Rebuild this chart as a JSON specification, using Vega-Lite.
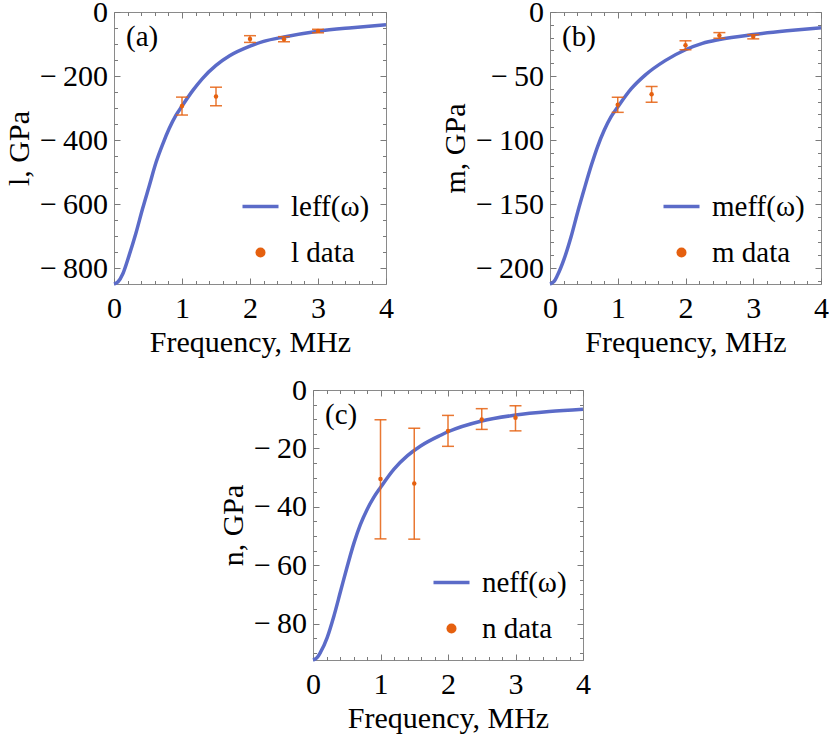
{
  "$schema": "https://vega.github.io/schema/vega-lite/v6.json",
  "background": "white",
  "padding": {"left": 4, "top": -4, "right": 0, "bottom": 0},
  "datasets": {
    "curveA": [
      {"f": 0, "v": -850}, {"f": 0.06, "v": -843}, {"f": 0.13, "v": -818}, {"f": 0.22, "v": -762},
      {"f": 0.32, "v": -693}, {"f": 0.42, "v": -615}, {"f": 0.52, "v": -542}, {"f": 0.62, "v": -469},
      {"f": 0.72, "v": -411}, {"f": 0.81, "v": -365}, {"f": 0.91, "v": -323}, {"f": 1.0, "v": -294},
      {"f": 1.16, "v": -245}, {"f": 1.3, "v": -208}, {"f": 1.5, "v": -167}, {"f": 1.7, "v": -137},
      {"f": 2.0, "v": -107}, {"f": 2.2, "v": -92}, {"f": 2.5, "v": -78}, {"f": 3.0, "v": -60},
      {"f": 3.5, "v": -49}, {"f": 4.0, "v": -40}
    ],
    "ptsA": [
      {"f": 1, "v": -294, "lo": -322, "hi": -266},
      {"f": 1.5, "v": -264, "lo": -293, "hi": -235},
      {"f": 2, "v": -84, "lo": -95, "hi": -74},
      {"f": 2.5, "v": -85, "lo": -93, "hi": -77},
      {"f": 3, "v": -59, "lo": -65, "hi": -54}
    ],
    "curveB": [
      {"f": 0, "v": -212.5}, {"f": 0.06, "v": -210.5}, {"f": 0.11, "v": -205.7}, {"f": 0.21, "v": -192.7},
      {"f": 0.31, "v": -175.8}, {"f": 0.41, "v": -156}, {"f": 0.51, "v": -137.5}, {"f": 0.61, "v": -119.8},
      {"f": 0.7, "v": -105.5}, {"f": 0.8, "v": -92.4}, {"f": 0.9, "v": -82}, {"f": 1.0, "v": -74.2},
      {"f": 1.2, "v": -59.9}, {"f": 1.4, "v": -49.5}, {"f": 1.7, "v": -38}, {"f": 2.0, "v": -29.5},
      {"f": 2.25, "v": -24.5}, {"f": 2.5, "v": -21.5}, {"f": 3.0, "v": -17.6}, {"f": 3.5, "v": -14.7},
      {"f": 4.0, "v": -12.3}
    ],
    "ptsB": [
      {"f": 1, "v": -72.4, "lo": -78.4, "hi": -66.6},
      {"f": 1.5, "v": -64.3, "lo": -70.5, "hi": -58.2},
      {"f": 2, "v": -26, "lo": -29.5, "hi": -22.5},
      {"f": 2.5, "v": -18.3, "lo": -20.5, "hi": -16.1},
      {"f": 3, "v": -19.3, "lo": -21, "hi": -17.7}
    ],
    "curveC": [
      {"f": 0, "v": -92.5}, {"f": 0.06, "v": -91.7}, {"f": 0.11, "v": -89.9}, {"f": 0.21, "v": -84.8},
      {"f": 0.31, "v": -77.4}, {"f": 0.41, "v": -68.8}, {"f": 0.51, "v": -60.2}, {"f": 0.61, "v": -52.2},
      {"f": 0.7, "v": -46.2}, {"f": 0.8, "v": -41}, {"f": 0.9, "v": -36.8}, {"f": 1.0, "v": -33.4},
      {"f": 1.2, "v": -27.1}, {"f": 1.4, "v": -22.5}, {"f": 1.6, "v": -19.1}, {"f": 1.9, "v": -15.4},
      {"f": 2.0, "v": -14.3}, {"f": 2.5, "v": -10.6}, {"f": 3.0, "v": -8.6}, {"f": 3.5, "v": -7.4},
      {"f": 4.0, "v": -6.6}
    ],
    "ptsC": [
      {"f": 1, "v": -30.5, "lo": -51, "hi": -10.2},
      {"f": 1.5, "v": -32, "lo": -51.1, "hi": -13.1},
      {"f": 2, "v": -14, "lo": -19.3, "hi": -8.7},
      {"f": 2.5, "v": -10.1, "lo": -13.5, "hi": -6.4},
      {"f": 3, "v": -9.5, "lo": -14, "hi": -5.4}
    ]
  },
  "vconcat": [
    {
      "hconcat": [
        {
          "width": 272, "height": 272,
          "title": {"text": "(a)"},
          "layer": [
            {
              "data": {"name": "curveA"},
              "mark": {"type": "line", "strokeWidth": 3.5, "interpolate": "monotone"},
              "encoding": {
                "x": {"field": "f", "type": "quantitative", "scale": {"domain": [0, 4], "nice": false, "zero": false},
                      "axis": {"orient": "bottom", "values": [0, 1, 2, 3, 4], "title": "Frequency, MHz"}},
                "y": {"field": "v", "type": "quantitative", "scale": {"domain": [-850, 0], "nice": false},
                      "axis": {"orient": "left", "values": [-800, -600, -400, -200, 0], "title": "l, GPa",
                               "labelExpr": "datum.value < 0 ? '\u2212\u2009' + format(-datum.value, 'd') : '0'"}},
                "color": {"datum": "leff(ω)", "type": "nominal",
                          "scale": {"domain": ["leff(ω)", "l data"], "range": ["#5b6bc8", "#e5600f"]},
                          "legend": {"encode": {"symbols": {"update": {
                            "shape": {"signal": "datum.index === 1 ? 'circle' : 'stroke'"},
                            "size": {"signal": "datum.index === 1 ? 100 : 1296"},
                            "strokeWidth": {"signal": "datum.index === 1 ? 0 : 3.5"},
                            "fill": {"signal": "datum.index === 1 ? '#e5600f' : 'transparent'"},
                            "stroke": {"signal": "datum.index === 1 ? '#e5600f' : '#5b6bc8'"},
                            "opacity": {"value": 1}}}}}}
              }
            },
            {
              "data": {"name": "ptsA"},
              "mark": {"type": "rule", "color": "#e5600f", "strokeWidth": 1.5, "opacity": 0.85},
              "encoding": {
                "x": {"field": "f", "type": "quantitative", "scale": {"domain": [0, 4], "nice": false, "zero": false},
                      "axis": {"orient": "top", "values": [0, 1, 2, 3, 4], "labels": false, "title": null}},
                "y": {"field": "lo", "type": "quantitative", "scale": {"domain": [-850, 0], "nice": false},
                      "axis": {"orient": "right", "values": [-800, -600, -400, -200, 0], "labels": false, "title": null}},
                "y2": {"field": "hi"}
              }
            },
            {
              "data": {"name": "ptsA"},
              "mark": {"type": "tick", "orient": "horizontal", "size": 12, "thickness": 1.5, "color": "#e5600f", "opacity": 0.85},
              "encoding": {
                "x": {"field": "f", "type": "quantitative", "scale": {"domain": [0, 4], "nice": false, "zero": false},
                      "axis": {"orient": "bottom", "values": [0.2, 0.4, 0.6, 0.8, 1.2, 1.4, 1.6, 1.8, 2.2, 2.4, 2.6, 2.8, 3.2, 3.4, 3.6, 3.8],
                               "labels": false, "title": null, "tickSize": 3.5, "offset": -3.5}},
                "y": {"field": "lo", "type": "quantitative", "scale": {"domain": [-850, 0], "nice": false},
                      "axis": {"orient": "left", "values": [-750, -700, -650, -550, -500, -450, -350, -300, -250, -150, -100, -50],
                               "labels": false, "title": null, "tickSize": 3.5, "offset": -3.5}}
              }
            },
            {
              "data": {"name": "ptsA"},
              "mark": {"type": "tick", "orient": "horizontal", "size": 12, "thickness": 1.5, "color": "#e5600f", "opacity": 0.85},
              "encoding": {
                "x": {"field": "f", "type": "quantitative", "scale": {"domain": [0, 4], "nice": false, "zero": false},
                      "axis": {"orient": "top", "values": [0.2, 0.4, 0.6, 0.8, 1.2, 1.4, 1.6, 1.8, 2.2, 2.4, 2.6, 2.8, 3.2, 3.4, 3.6, 3.8],
                               "labels": false, "title": null, "tickSize": 3.5, "offset": -3.5}},
                "y": {"field": "hi", "type": "quantitative", "scale": {"domain": [-850, 0], "nice": false},
                      "axis": {"orient": "right", "values": [-750, -700, -650, -550, -500, -450, -350, -300, -250, -150, -100, -50],
                               "labels": false, "title": null, "tickSize": 3.5, "offset": -3.5}}
              }
            },
            {
              "data": {"name": "ptsA"},
              "mark": {"type": "point", "filled": true, "size": 20, "opacity": 1},
              "encoding": {
                "x": {"field": "f", "type": "quantitative", "scale": {"domain": [0, 4], "nice": false, "zero": false}, "axis": null},
                "y": {"field": "v", "type": "quantitative", "scale": {"domain": [-850, 0], "nice": false}, "axis": null},
                "color": {"datum": "l data", "type": "nominal"}
              }
            }
          ],
          "resolve": {"axis": {"x": "independent", "y": "independent"}}
        },
        {
          "width": 271, "height": 272,
          "title": {"text": "(b)"},
          "layer": [
            {
              "data": {"name": "curveB"},
              "mark": {"type": "line", "strokeWidth": 3.5, "interpolate": "monotone"},
              "encoding": {
                "x": {"field": "f", "type": "quantitative", "scale": {"domain": [0, 4], "nice": false, "zero": false},
                      "axis": {"orient": "bottom", "values": [0, 1, 2, 3, 4], "title": "Frequency, MHz"}},
                "y": {"field": "v", "type": "quantitative", "scale": {"domain": [-212.5, 0], "nice": false},
                      "axis": {"orient": "left", "values": [-200, -150, -100, -50, 0], "title": "m, GPa",
                               "labelExpr": "datum.value < 0 ? '\u2212\u2009' + format(-datum.value, 'd') : '0'"}},
                "color": {"datum": "meff(ω)", "type": "nominal",
                          "scale": {"domain": ["meff(ω)", "m data"], "range": ["#5b6bc8", "#e5600f"]},
                          "legend": {"encode": {"symbols": {"update": {
                            "shape": {"signal": "datum.index === 1 ? 'circle' : 'stroke'"},
                            "size": {"signal": "datum.index === 1 ? 100 : 1296"},
                            "strokeWidth": {"signal": "datum.index === 1 ? 0 : 3.5"},
                            "fill": {"signal": "datum.index === 1 ? '#e5600f' : 'transparent'"},
                            "stroke": {"signal": "datum.index === 1 ? '#e5600f' : '#5b6bc8'"},
                            "opacity": {"value": 1}}}}}}
              }
            },
            {
              "data": {"name": "ptsB"},
              "mark": {"type": "rule", "color": "#e5600f", "strokeWidth": 1.5, "opacity": 0.85},
              "encoding": {
                "x": {"field": "f", "type": "quantitative", "scale": {"domain": [0, 4], "nice": false, "zero": false},
                      "axis": {"orient": "top", "values": [0, 1, 2, 3, 4], "labels": false, "title": null}},
                "y": {"field": "lo", "type": "quantitative", "scale": {"domain": [-212.5, 0], "nice": false},
                      "axis": {"orient": "right", "values": [-200, -150, -100, -50, 0], "labels": false, "title": null}},
                "y2": {"field": "hi"}
              }
            },
            {
              "data": {"name": "ptsB"},
              "mark": {"type": "tick", "orient": "horizontal", "size": 12, "thickness": 1.5, "color": "#e5600f", "opacity": 0.85},
              "encoding": {
                "x": {"field": "f", "type": "quantitative", "scale": {"domain": [0, 4], "nice": false, "zero": false},
                      "axis": {"orient": "bottom", "values": [0.2, 0.4, 0.6, 0.8, 1.2, 1.4, 1.6, 1.8, 2.2, 2.4, 2.6, 2.8, 3.2, 3.4, 3.6, 3.8],
                               "labels": false, "title": null, "tickSize": 3.5, "offset": -3.5}},
                "y": {"field": "lo", "type": "quantitative", "scale": {"domain": [-212.5, 0], "nice": false},
                      "axis": {"orient": "left", "values": [-210, -190, -180, -170, -160, -140, -130, -120, -110, -90, -80, -70, -60, -40, -30, -20, -10],
                               "labels": false, "title": null, "tickSize": 3.5, "offset": -3.5}}
              }
            },
            {
              "data": {"name": "ptsB"},
              "mark": {"type": "tick", "orient": "horizontal", "size": 12, "thickness": 1.5, "color": "#e5600f", "opacity": 0.85},
              "encoding": {
                "x": {"field": "f", "type": "quantitative", "scale": {"domain": [0, 4], "nice": false, "zero": false},
                      "axis": {"orient": "top", "values": [0.2, 0.4, 0.6, 0.8, 1.2, 1.4, 1.6, 1.8, 2.2, 2.4, 2.6, 2.8, 3.2, 3.4, 3.6, 3.8],
                               "labels": false, "title": null, "tickSize": 3.5, "offset": -3.5}},
                "y": {"field": "hi", "type": "quantitative", "scale": {"domain": [-212.5, 0], "nice": false},
                      "axis": {"orient": "right", "values": [-210, -190, -180, -170, -160, -140, -130, -120, -110, -90, -80, -70, -60, -40, -30, -20, -10],
                               "labels": false, "title": null, "tickSize": 3.5, "offset": -3.5}}
              }
            },
            {
              "data": {"name": "ptsB"},
              "mark": {"type": "point", "filled": true, "size": 20, "opacity": 1},
              "encoding": {
                "x": {"field": "f", "type": "quantitative", "scale": {"domain": [0, 4], "nice": false, "zero": false}, "axis": null},
                "y": {"field": "v", "type": "quantitative", "scale": {"domain": [-212.5, 0], "nice": false}, "axis": null},
                "color": {"datum": "m data", "type": "nominal"}
              }
            }
          ],
          "resolve": {"axis": {"x": "independent", "y": "independent"}}
        }
      ],
      "spacing": 164,
      "bounds": "flush",
      "resolve": {"scale": {"color": "independent"}, "legend": {"color": "independent"}}
    },
    {
      "hconcat": [
        {
          "width": 199, "height": 100,
          "view": {"stroke": null, "fill": "white"},
          "data": {"values": []},
          "mark": "point"
        },
        {
          "width": 270, "height": 270,
          "title": {"text": "(c)"},
          "layer": [
            {
              "data": {"name": "curveC"},
              "mark": {"type": "line", "strokeWidth": 3.5, "interpolate": "monotone"},
              "encoding": {
                "x": {"field": "f", "type": "quantitative", "scale": {"domain": [0, 4], "nice": false, "zero": false},
                      "axis": {"orient": "bottom", "values": [0, 1, 2, 3, 4], "title": "Frequency, MHz"}},
                "y": {"field": "v", "type": "quantitative", "scale": {"domain": [-92.5, 0], "nice": false},
                      "axis": {"orient": "left", "values": [-80, -60, -40, -20, 0], "title": "n, GPa",
                               "labelExpr": "datum.value < 0 ? '\u2212\u2009' + format(-datum.value, 'd') : '0'"}},
                "color": {"datum": "neff(ω)", "type": "nominal",
                          "scale": {"domain": ["neff(ω)", "n data"], "range": ["#5b6bc8", "#e5600f"]},
                          "legend": {"encode": {"symbols": {"update": {
                            "shape": {"signal": "datum.index === 1 ? 'circle' : 'stroke'"},
                            "size": {"signal": "datum.index === 1 ? 100 : 1296"},
                            "strokeWidth": {"signal": "datum.index === 1 ? 0 : 3.5"},
                            "fill": {"signal": "datum.index === 1 ? '#e5600f' : 'transparent'"},
                            "stroke": {"signal": "datum.index === 1 ? '#e5600f' : '#5b6bc8'"},
                            "opacity": {"value": 1}}}}}}
              }
            },
            {
              "data": {"name": "ptsC"},
              "mark": {"type": "rule", "color": "#e5600f", "strokeWidth": 1.5, "opacity": 0.85},
              "encoding": {
                "x": {"field": "f", "type": "quantitative", "scale": {"domain": [0, 4], "nice": false, "zero": false},
                      "axis": {"orient": "top", "values": [0, 1, 2, 3, 4], "labels": false, "title": null}},
                "y": {"field": "lo", "type": "quantitative", "scale": {"domain": [-92.5, 0], "nice": false},
                      "axis": {"orient": "right", "values": [-80, -60, -40, -20, 0], "labels": false, "title": null}},
                "y2": {"field": "hi"}
              }
            },
            {
              "data": {"name": "ptsC"},
              "mark": {"type": "tick", "orient": "horizontal", "size": 12, "thickness": 1.5, "color": "#e5600f", "opacity": 0.85},
              "encoding": {
                "x": {"field": "f", "type": "quantitative", "scale": {"domain": [0, 4], "nice": false, "zero": false},
                      "axis": {"orient": "bottom", "values": [0.2, 0.4, 0.6, 0.8, 1.2, 1.4, 1.6, 1.8, 2.2, 2.4, 2.6, 2.8, 3.2, 3.4, 3.6, 3.8],
                               "labels": false, "title": null, "tickSize": 3.5, "offset": -3.5}},
                "y": {"field": "lo", "type": "quantitative", "scale": {"domain": [-92.5, 0], "nice": false},
                      "axis": {"orient": "left", "values": [-90, -85, -75, -70, -65, -55, -50, -45, -35, -30, -25, -15, -10, -5],
                               "labels": false, "title": null, "tickSize": 3.5, "offset": -3.5}}
              }
            },
            {
              "data": {"name": "ptsC"},
              "mark": {"type": "tick", "orient": "horizontal", "size": 12, "thickness": 1.5, "color": "#e5600f", "opacity": 0.85},
              "encoding": {
                "x": {"field": "f", "type": "quantitative", "scale": {"domain": [0, 4], "nice": false, "zero": false},
                      "axis": {"orient": "top", "values": [0.2, 0.4, 0.6, 0.8, 1.2, 1.4, 1.6, 1.8, 2.2, 2.4, 2.6, 2.8, 3.2, 3.4, 3.6, 3.8],
                               "labels": false, "title": null, "tickSize": 3.5, "offset": -3.5}},
                "y": {"field": "hi", "type": "quantitative", "scale": {"domain": [-92.5, 0], "nice": false},
                      "axis": {"orient": "right", "values": [-90, -85, -75, -70, -65, -55, -50, -45, -35, -30, -25, -15, -10, -5],
                               "labels": false, "title": null, "tickSize": 3.5, "offset": -3.5}}
              }
            },
            {
              "data": {"name": "ptsC"},
              "mark": {"type": "point", "filled": true, "size": 20, "opacity": 1},
              "encoding": {
                "x": {"field": "f", "type": "quantitative", "scale": {"domain": [0, 4], "nice": false, "zero": false}, "axis": null},
                "y": {"field": "v", "type": "quantitative", "scale": {"domain": [-92.5, 0], "nice": false}, "axis": null},
                "color": {"datum": "n data", "type": "nominal"}
              }
            }
          ],
          "resolve": {"axis": {"x": "independent", "y": "independent"}}
        }
      ],
      "spacing": 0,
      "bounds": "flush",
      "resolve": {"scale": {"color": "independent"}, "legend": {"color": "independent"}}
    }
  ],
  "spacing": 16,
  "bounds": "full",
  "resolve": {"scale": {"color": "independent"}, "legend": {"color": "independent"}},
  "config": {
    "view": {"stroke": "#8a8a8a", "strokeWidth": 1},
    "font": "Liberation Serif",
    "axis": {
      "grid": false,
      "domain": false,
      "tickColor": "#7a7a7a",
      "tickSize": 6,
      "offset": -6,
      "labelFont": "Liberation Serif",
      "labelFontSize": 30,
      "labelColor": "black",
      "labelFlush": false,
      "labelOverlap": false,
      "titleFont": "Liberation Serif",
      "titleFontSize": 30,
      "titleFontWeight": "normal",
      "titleColor": "black"
    },
    "axisX": {"labelPadding": 9, "titlePadding": 4},
    "axisY": {"labelPadding": 6.5, "titlePadding": 5},
    "legend": {
      "orient": "bottom-right",
      "offset": 16,
      "padding": 0,
      "title": null,
      "labelFont": "Liberation Serif",
      "labelFontSize": 29,
      "labelColor": "black",
      "labelOffset": 16,
      "rowPadding": 16,
      "symbolSize": 1296,
      "symbolType": "stroke",
      "symbolStrokeWidth": 3.5
    },
    "title": {
      "font": "Liberation Serif",
      "fontSize": 29,
      "fontWeight": "normal",
      "color": "black",
      "anchor": "start",
      "frame": "group",
      "orient": "top",
      "offset": 0,
      "dx": 12,
      "dy": 59,
      "baseline": "alphabetic"
    }
  }
}
